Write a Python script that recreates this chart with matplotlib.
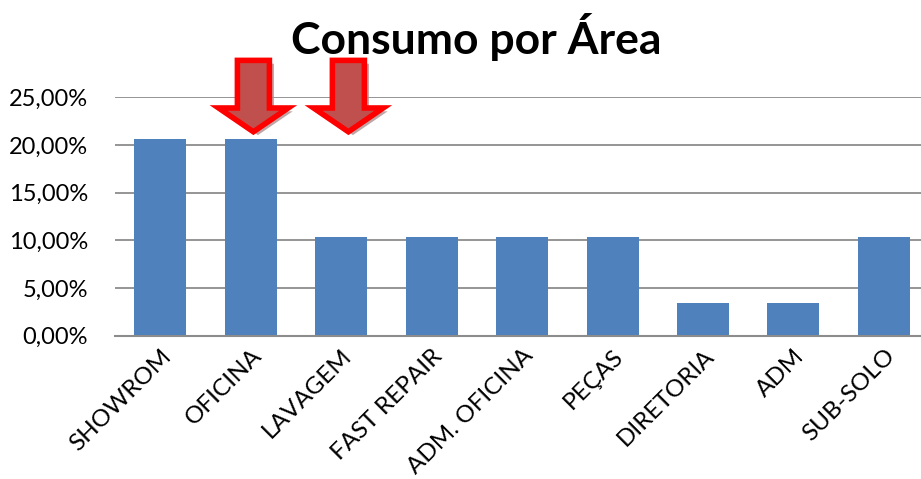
import matplotlib
matplotlib.use("Agg")
import matplotlib.pyplot as plt
from matplotlib.patches import Polygon
from matplotlib.ticker import FuncFormatter

# data
areas = ["SHOWROM", "OFICINA", "LAVAGEM", "FAST REPAIR", "ADM. OFICINA",
         "PEÇAS", "DIRETORIA", "ADM", "SUB-SOLO"]
consumo = [20.69, 20.69, 10.34, 10.34, 10.34, 10.34, 3.45, 3.45, 10.34]
y_ticks = [0, 5, 10, 15, 20, 25]
highlight = ["OFICINA", "LAVAGEM"]

BAR = "#4F81BD"
GRID = "#8C8C8C"

plt.rcParams["font.family"] = ["Lato", "DejaVu Sans"]

W, H = 921, 479
fig = plt.figure(figsize=(W / 100, H / 100), dpi=100)
# axes box in pixels: left 115, right 921, bottom y=335, top y=98 (25%)
ax = fig.add_axes([115 / W, 1 - 335.5 / H, (921 - 115) / W, (335.5 - 97.5) / H])

x = list(range(len(areas)))
ax.bar(x, consumo, width=0.575, color=BAR, zorder=3)

ax.set_xlim(-0.5, 8.41)
ax.set_ylim(0, 25)
ax.set_yticks(y_ticks)
ax.yaxis.set_major_formatter(FuncFormatter(lambda v, p: f"{v:.2f}%".replace(".", ",")))
ax.grid(axis="y", color=GRID, linewidth=1.3, zorder=0)
for s in ["left", "right", "top"]:
    ax.spines[s].set_visible(False)
ax.spines["bottom"].set_color(GRID)
ax.spines["bottom"].set_linewidth(1.5)
ax.spines["bottom"].set_zorder(4)
ax.tick_params(axis="both", length=0, colors="black")
ax.tick_params(axis="y", pad=19.5, labelsize=17)
ax.tick_params(axis="x", pad=7, labelsize=17.5)
ax.set_xticks(x)
ax.set_xticklabels(areas, rotation=45, ha="right", rotation_mode="anchor")

fig.text(476 / W, 1 - 37 / H, "Consumo por Área", ha="center", va="center",
         fontsize=32, fontweight="bold")


def arrow(cx):
    # arrow shape in data units (x: category index, y: percent)
    sw, hw = 0.177, 0.385
    top, neck, tip = 28.9, 23.9, 21.4
    return [(cx - sw, top), (cx + sw, top), (cx + sw, neck), (cx + hw, neck),
            (cx, tip), (cx - hw, neck), (cx - sw, neck)]


for name, dx in zip(highlight, [0.03, 0.08]):
    cx = areas.index(name) + dx
    pts = arrow(cx)
    sh = [(px + 0.05, py - 0.35) for px, py in pts]
    ax.add_patch(Polygon(sh, closed=True, facecolor="#B09090", edgecolor="none",
                         alpha=0.8, clip_on=False, zorder=5))
    ax.add_patch(Polygon(pts, closed=True, facecolor="#C0504D", edgecolor="#FF0000",
                         linewidth=4, joinstyle="miter", clip_on=False, zorder=6))

fig.savefig("out.png", dpi=100)
